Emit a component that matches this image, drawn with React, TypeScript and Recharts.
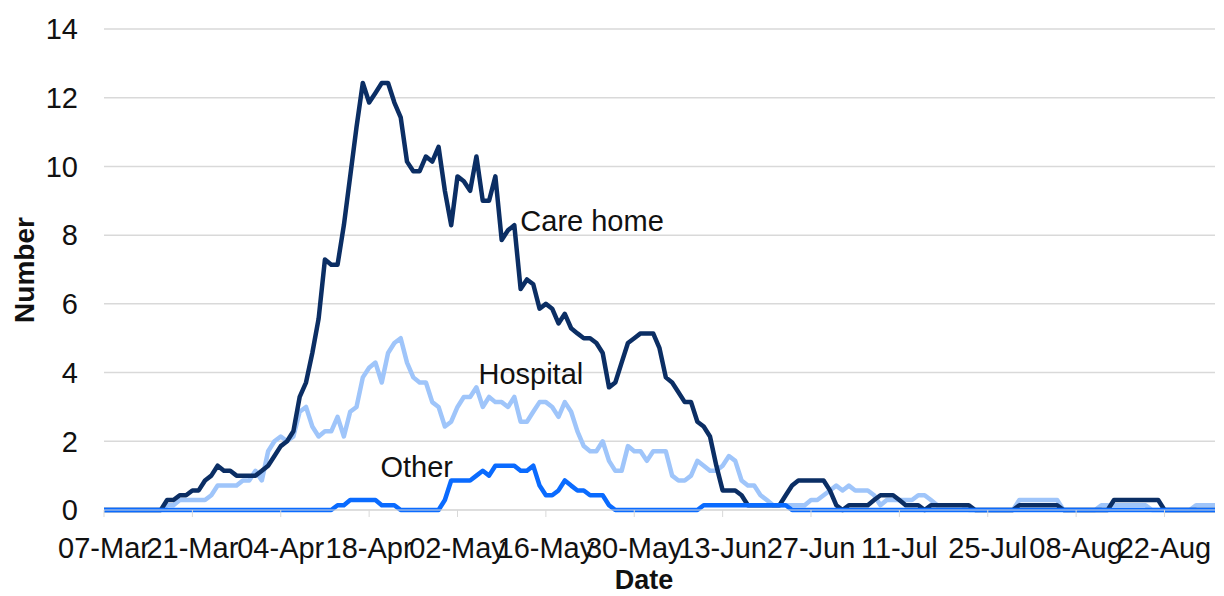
import { CartesianGrid, Line, LineChart, ReferenceDot, XAxis, YAxis } from 'recharts';

// daily values (7-day averages), 07-Mar to 30-Aug
const careHome = [
  0, 0, 0, 0, 0, 0, 0, 0, 0, 0,
  0.29, 0.29, 0.43, 0.43, 0.57, 0.57, 0.86, 1.0, 1.29, 1.14,
  1.14, 1.0, 1.0, 1.0, 1.0, 1.14, 1.29, 1.57, 1.86, 2.0,
  2.29, 3.29, 3.71, 4.57, 5.57, 7.29, 7.14, 7.14, 8.29, 9.71,
  11.14, 12.43, 11.86, 12.14, 12.43, 12.43, 11.86, 11.43, 10.14, 9.86,
  9.86, 10.29, 10.14, 10.57, 9.29, 8.29, 9.71, 9.57, 9.29, 10.29,
  9.0, 9.0, 9.71, 7.86, 8.14, 8.29, 6.43, 6.71, 6.57, 5.86,
  6.0, 5.86, 5.43, 5.71, 5.29, 5.14, 5.0, 5.0, 4.86, 4.57,
  3.57, 3.71, 4.29, 4.86, 5.0, 5.14, 5.14, 5.14, 4.71, 3.86,
  3.71, 3.43, 3.14, 3.14, 2.57, 2.43, 2.14, 1.29, 0.57, 0.57,
  0.57, 0.43, 0.14, 0.14, 0.14, 0.14, 0.14, 0.14, 0.43, 0.71,
  0.86, 0.86, 0.86, 0.86, 0.86, 0.57, 0.14, 0, 0.14, 0.14,
  0.14, 0.14, 0.29, 0.43, 0.43, 0.43, 0.29, 0.14, 0.14, 0.14,
  0, 0.14, 0.14, 0.14, 0.14, 0.14, 0.14, 0.14, 0, 0,
  0, 0, 0, 0, 0, 0.14, 0.14, 0.14, 0.14, 0.14,
  0.14, 0.14, 0, 0, 0, 0, 0, 0, 0, 0,
  0.29, 0.29, 0.29, 0.29, 0.29, 0.29, 0.29, 0.29, 0, 0,
  0, 0, 0, 0, 0, 0, 0,
];

const hospital = [
  0, 0, 0, 0, 0, 0, 0, 0, 0, 0,
  0.14, 0.14, 0.29, 0.29, 0.29, 0.29, 0.29, 0.43, 0.71, 0.71,
  0.71, 0.71, 0.86, 0.86, 1.14, 0.86, 1.71, 2.0, 2.14, 2.0,
  2.14, 2.86, 3.0, 2.43, 2.14, 2.29, 2.29, 2.71, 2.14, 2.86,
  3.0, 3.86, 4.14, 4.29, 3.71, 4.57, 4.86, 5.0, 4.29, 3.86,
  3.71, 3.71, 3.14, 3.0, 2.43, 2.57, 3.0, 3.29, 3.29, 3.57,
  3.0, 3.29, 3.14, 3.14, 3.0, 3.29, 2.57, 2.57, 2.86, 3.14,
  3.14, 3.0, 2.71, 3.14, 2.86, 2.29, 1.86, 1.71, 1.71, 2.0,
  1.43, 1.14, 1.14, 1.86, 1.71, 1.71, 1.43, 1.71, 1.71, 1.71,
  1.0, 0.86, 0.86, 1.0, 1.43, 1.29, 1.14, 1.14, 1.29, 1.57,
  1.43, 0.86, 0.71, 0.71, 0.43, 0.29, 0.14, 0.14, 0.14, 0.14,
  0.14, 0.14, 0.29, 0.29, 0.43, 0.57, 0.71, 0.57, 0.71, 0.57,
  0.57, 0.57, 0.43, 0.14, 0.29, 0.29, 0.29, 0.29, 0.29, 0.43,
  0.43, 0.29, 0.14, 0.14, 0.14, 0.14, 0.14, 0, 0, 0,
  0, 0, 0, 0, 0, 0.29, 0.29, 0.29, 0.29, 0.29,
  0.29, 0.29, 0, 0, 0, 0, 0, 0, 0.14, 0.14,
  0.14, 0.14, 0.14, 0.14, 0.14, 0.14, 0, 0, 0, 0,
  0, 0, 0, 0.14, 0.14, 0.14, 0.14,
];

const other = [
  0, 0, 0, 0, 0, 0, 0, 0, 0, 0,
  0, 0, 0, 0, 0, 0, 0, 0, 0, 0,
  0, 0, 0, 0, 0, 0, 0, 0, 0, 0,
  0, 0, 0, 0, 0, 0, 0, 0.14, 0.14, 0.29,
  0.29, 0.29, 0.29, 0.29, 0.14, 0.14, 0.14, 0, 0, 0,
  0, 0, 0, 0, 0.29, 0.86, 0.86, 0.86, 0.86, 1.0,
  1.14, 1.0, 1.29, 1.29, 1.29, 1.29, 1.14, 1.14, 1.29, 0.71,
  0.43, 0.43, 0.57, 0.86, 0.71, 0.57, 0.57, 0.43, 0.43, 0.43,
  0.14, 0, 0, 0, 0, 0, 0, 0, 0, 0,
  0, 0, 0, 0, 0, 0.14, 0.14, 0.14, 0.14, 0.14,
  0.14, 0.14, 0.14, 0.14, 0.14, 0.14, 0.14, 0.14, 0.14, 0,
  0, 0, 0, 0, 0, 0, 0, 0, 0, 0,
  0, 0, 0, 0, 0, 0, 0, 0, 0, 0,
  0, 0, 0, 0, 0, 0, 0, 0, 0, 0,
  0, 0, 0, 0, 0, 0, 0, 0, 0, 0,
  0, 0, 0, 0, 0, 0, 0, 0, 0, 0,
  0, 0, 0, 0, 0, 0, 0, 0, 0, 0,
  0, 0, 0, 0, 0, 0, 0,
];

const monthNames = ['Jan', 'Feb', 'Mar', 'Apr', 'May', 'Jun', 'Jul', 'Aug', 'Sep', 'Oct', 'Nov', 'Dec'];
const yTicks = [0, 2, 4, 6, 8, 10, 12, 14];

// labels written next to the lines: [text, date, value, offset]
const seriesLabels: [string, string, number, number][] = [
  ['Care home', '11-May', 8.43, 6],
  ['Hospital', '05-May', 3.97, 2],
  ['Other', '19-Apr', 1.25, 5],
];

function dayLabel(i: number) {
  const d = new Date(Date.UTC(2020, 2, 7 + i));
  return String(d.getUTCDate()).padStart(2, '0') + '-' + monthNames[d.getUTCMonth()];
}

const data = careHome.map((v, i) => ({
  date: dayLabel(i),
  careHome: v,
  hospital: hospital[i],
  other: other[i],
}));

const font = '"Liberation Sans", Arial, sans-serif';
const tickStyle = { fontSize: 29, fill: '#111', fontFamily: font };

export default function App() {
  return (
    <div style={{ position: 'absolute', left: 0, top: 0, width: 1224, height: 596, background: '#fff' }}>
      <LineChart width={1224} height={596} data={data} margin={{ top: 29, right: 9, left: 44, bottom: 36 }}>
        <CartesianGrid vertical={false} stroke="#d9d9d9" strokeWidth={1.5} />
        <XAxis
          dataKey="date"
          interval={13}
          height={50}
          tickSize={7}
          tickMargin={20}
          tick={tickStyle}
          tickLine={{ stroke: '#d9d9d9' }}
          axisLine={{ stroke: '#d9d9d9' }}
        />
        <YAxis
          domain={[0, 14]}
          ticks={yTicks}
          width={60}
          axisLine={false}
          tickLine={false}
          tickSize={0}
          tickMargin={26}
          tick={tickStyle}
        />
        <Line type="linear" dataKey="hospital" stroke="#9fc5fa" strokeWidth={4.5} strokeLinejoin="round" dot={false} activeDot={false} isAnimationActive={false} />
        <Line type="linear" dataKey="careHome" stroke="#0b2e64" strokeWidth={4.5} strokeLinejoin="round" dot={false} activeDot={false} isAnimationActive={false} />
        <Line type="linear" dataKey="other" stroke="#0a6bff" strokeWidth={4.5} strokeLinejoin="round" dot={false} activeDot={false} isAnimationActive={false} />
        {seriesLabels.map(([text, x, y, off]) => (
          <ReferenceDot
            key={text}
            x={x}
            y={y}
            r={0}
            fill="none"
            stroke="none"
            label={{ value: text, position: 'right', offset: off, fontSize: 29, fill: '#111', fontFamily: font }}
          />
        ))}
      </LineChart>
      <div
        style={{
          position: 'absolute',
          left: 25,
          top: 270,
          transform: 'translate(-50%, -50%) rotate(-90deg)',
          fontFamily: font,
          fontWeight: 'bold',
          fontSize: 28,
          color: '#111',
          whiteSpace: 'nowrap',
        }}
      >
        Number
      </div>
      <div
        style={{
          position: 'absolute',
          left: 644,
          top: 580,
          transform: 'translate(-50%, -50%)',
          fontFamily: font,
          fontWeight: 'bold',
          fontSize: 27,
          lineHeight: '30px',
          color: '#111',
          whiteSpace: 'nowrap',
        }}
      >
        Date
      </div>
    </div>
  );
}
